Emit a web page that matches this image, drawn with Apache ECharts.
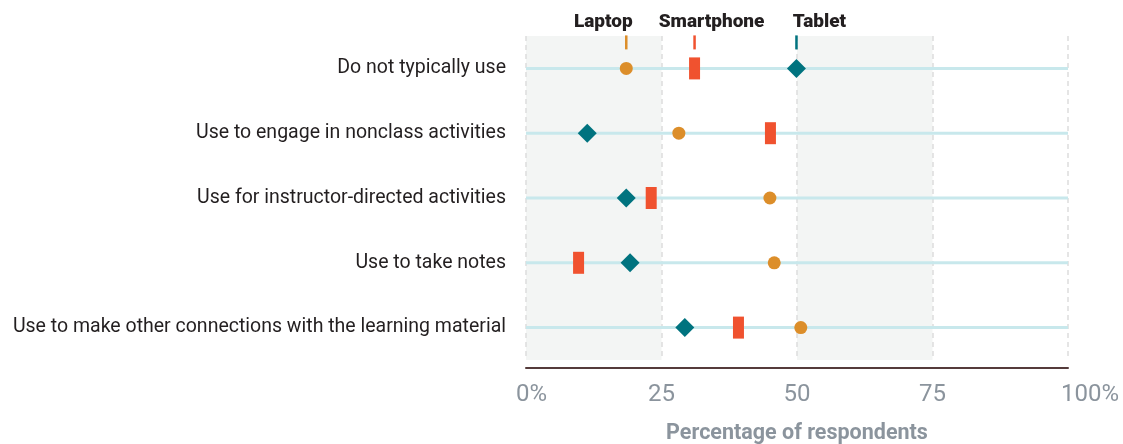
<!DOCTYPE html>
<html>
<head>
<meta charset="utf-8">
<script src="https://cdn.jsdelivr.net/npm/echarts@6/dist/echarts.min.js"></script>
<style>
  html, body { margin: 0; padding: 0; background: #ffffff; }
  #main { width: 1123px; height: 444px; }
</style>
</head>
<body>
<div id="main"></div>
<script>
// Data
var categories = [
    "Do not typically use",
    "Use to engage in nonclass activities",
    "Use for instructor-directed activities",
    "Use to take notes",
    "Use to make other connections with the learning material"
];
var laptopVals     = [18.5, 28.2, 45.0, 45.8, 50.7];
var smartphoneVals = [31.1, 45.1, 23.1,  9.7, 39.2];
var tabletVals     = [49.9, 11.3, 18.5, 19.2, 29.3];
var xTicks = [0, 25, 50, 75, 100];
var shadedBands = [[0, 25], [50, 75]];

var xMin = 0, xMax = 100;

var labelFont = "Roboto";
var colLaptop = "#dc8e2a";
var colPhone  = "#f0522f";
var colTablet = "#00737f";
var tickGray  = "#8b949d";

//Legend tick that sits above row one, with the series name over it.
function legendTick(name, value, color, dx){
    return {
        coord: [value, categories[0]],
        symbol: 'rect',
        symbolSize: [2.5, 14],
        symbolOffset: [0, -26],
        itemStyle: { color: color },
        label: {
            show: true,
            position: 'top',
            distance: 4,
            offset: [dx, 0],
            formatter: name,
            fontFamily: labelFont,
            fontWeight: 900,
            fontSize: 19,
            color: '#231f20'
        }
    };
}

function markerSeries(name, values, symbol, size, color, tick){
    return {
        name: name,
        type: 'scatter',
        z: 4,
        symbol: symbol,
        symbolSize: size,
        itemStyle: { color: color, opacity: 1 },
        data: values,
        markPoint: { silent: true, data: [tick] }
    };
}

var chart = echarts.init(document.getElementById("main"));

chart.setOption({
    animation: false,
    grid: { left: 526, right: 55, top: 36, bottom: 84, outerBoundsMode: 'none' },
    xAxis: {
        type: 'value',
        min: xMin,
        max: xMax,
        interval: 25,
        offset: 8,
        axisLine: { show: true, lineStyle: { color: '#553b3b', width: 2 } },
        axisTick: { show: false },
        splitLine: { show: false },
        axisLabel: {
            margin: 15,
            fontFamily: labelFont,
            fontSize: 24,
            color: tickGray,
            formatter: function (v) {
                if (v === xMin) return '{a|' + v + '%}';
                if (v === xMax) return '{b|' + v + '%}';
                return String(v);
            },
            rich: {
                a: { fontFamily: labelFont, fontSize: 24, color: tickGray, padding: [0, 0, 0, 11] },
                b: { fontFamily: labelFont, fontSize: 24, color: tickGray, padding: [0, 0, 0, 44] }
            }
        },
        name: 'Percentage of respondents',
        nameLocation: 'middle',
        nameGap: 55,
        nameTextStyle: { fontFamily: labelFont, fontWeight: 'bold', fontSize: 21.5, color: tickGray }
    },
    yAxis: {
        type: 'category',
        data: categories,
        inverse: true,
        axisLine: { show: false },
        axisTick: { show: false },
        splitLine: { show: false },
        axisLabel: { margin: 20, fontFamily: labelFont, fontSize: 19.5, color: '#231f20' }
    },
    series: [
        {
            name: 'bands',
            type: 'line',
            z: 1,
            data: [],
            markArea: {
                silent: true,
                z: 1,
                itemStyle: { color: '#f3f5f4' },
                data: shadedBands.map(function (b) { return [{ xAxis: b[0] }, { xAxis: b[1] }]; })
            }
        },
        {
            name: 'gridlines',
            type: 'line',
            z: 2,
            data: [],
            markLine: {
                silent: true,
                z: 2,
                symbol: 'none',
                label: { show: false },
                lineStyle: { color: '#dddddd', type: [5, 4], width: 1.5 },
                data: xTicks.map(function (t) { return { xAxis: t }; })
            }
        },
        {
            name: 'track',
            type: 'bar',
            z: 3,
            silent: true,
            barWidth: 3,
            itemStyle: { color: '#c8e8ec' },
            data: categories.map(function () { return xMax; })
        },
        markerSeries('Laptop', laptopVals, 'circle', 13, colLaptop,
            legendTick('Laptop', laptopVals[0], colLaptop, -23)),
        markerSeries('Smartphone', smartphoneVals, 'rect', [11, 22], colPhone,
            legendTick('Smartphone', smartphoneVals[0], colPhone, 17)),
        markerSeries('Tablet', tabletVals, 'diamond', [19, 19], colTablet,
            legendTick('Tablet', tabletVals[0], colTablet, 23))
    ]
});
</script>
</body>
</html>
